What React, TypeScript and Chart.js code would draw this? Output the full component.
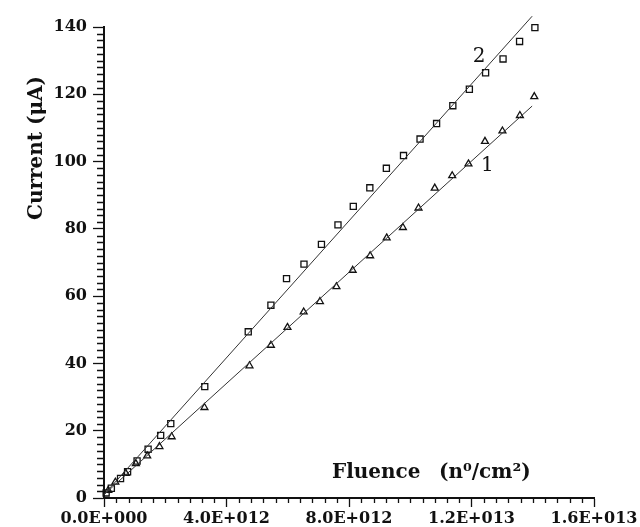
import React, { useEffect, useRef } from 'react';
import { Chart, registerables } from 'chart.js';

Chart.register(...registerables);

// Fluence in units of 1e12 n0/cm2, current in µA
const fluence2 = [0.07, 0.24, 0.54, 0.77, 1.08, 1.44, 1.85, 2.18, 3.29, 4.71, 5.45, 5.96, 6.53, 7.1, 7.64, 8.14, 8.68, 9.22, 9.78, 10.32, 10.86, 11.39, 11.93, 12.46, 13.03, 13.57, 14.07];
const current2 = [1.5, 2.9, 5.8, 7.8, 11.0, 14.5, 18.6, 22.1, 33.1, 49.4, 57.3, 65.2, 69.5, 75.4, 81.2, 86.7, 92.2, 98.0, 101.8, 106.7, 111.3, 116.6, 121.5, 126.4, 130.5, 135.7, 139.8];

const fluence1 = [0.14, 0.37, 0.71, 1.04, 1.41, 1.81, 2.21, 3.28, 4.75, 5.45, 5.99, 6.52, 7.05, 7.59, 8.12, 8.69, 9.23, 9.76, 10.27, 10.8, 11.37, 11.9, 12.44, 13.01, 13.58, 14.05];
const current1 = [2.3, 4.7, 7.3, 10.2, 12.5, 15.3, 18.2, 26.9, 39.3, 45.4, 50.7, 55.3, 58.4, 62.8, 67.7, 72.0, 77.3, 80.4, 86.2, 92.1, 95.8, 99.3, 106.0, 109.1, 113.7, 119.3];

const fitFluence = [0, 13.98];
const fit2Current = [1, 143.2];
const fit1Current = [1, 116.5];

const xTickLabels = ['0.0E+000', '4.0E+012', '8.0E+012', '1.2E+013', '1.6E+013'];
const seriesLabels = ['2', '1'];
const seriesLabelFluence = [12.25, 12.52];
const seriesLabelCurrent = [131, 98.8];

const FONT = '"DejaVu Serif", serif';

const pts = (xs: number[], ys: number[]) => xs.map((x, i) => ({ x, y: ys[i] }));

const decor = {
  id: 'decor',
  afterDraw(chart: any) {
    const { ctx, chartArea, scales } = chart;
    const xs = scales.x;
    const ys = scales.y;
    ctx.save();
    ctx.strokeStyle = '#111';
    ctx.lineWidth = 1.3;
    ctx.beginPath();
    for (let i = 1; i < 70; i++) {
      if (i % 10 === 0) continue;
      const py = Math.round(ys.getPixelForValue(i * 2)) + 0.5;
      ctx.moveTo(chartArea.left - 7, py);
      ctx.lineTo(chartArea.left, py);
    }
    for (let i = 1; i < 40; i++) {
      if (i % 10 === 0) continue;
      const px = Math.round(xs.getPixelForValue(i * 0.4)) + 0.5;
      ctx.moveTo(px, chartArea.bottom);
      ctx.lineTo(px, chartArea.bottom + 5);
    }
    ctx.stroke();

    ctx.fillStyle = '#111';
    ctx.font = `20px ${FONT}`;
    ctx.textAlign = 'center';
    ctx.textBaseline = 'middle';
    seriesLabels.forEach((t, i) => {
      ctx.fillText(t, xs.getPixelForValue(seriesLabelFluence[i]), ys.getPixelForValue(seriesLabelCurrent[i]));
    });

    ctx.font = `bold 20px ${FONT}`;
    ctx.textAlign = 'left';
    ctx.textBaseline = 'alphabetic';
    ctx.fillText('Fluence', chartArea.left + 228, chartArea.bottom - 20);
    ctx.fillText('(n\u2070/cm\u00B2)', chartArea.left + 335, chartArea.bottom - 20);

    ctx.translate(chartArea.left - 62, chartArea.top + 121);
    ctx.rotate(-Math.PI / 2);
    ctx.textAlign = 'center';
    ctx.fillText('Current (\u03BCA)', 0, 0);
    ctx.restore();
  },
};

export default function App() {
  const ref = useRef<HTMLCanvasElement | null>(null);
  useEffect(() => {
    document.body.style.margin = '0';
    const canvas = ref.current;
    if (!canvas) return;
    const chart = new Chart(canvas, {
      type: 'scatter',
      data: {
        datasets: [
          {
            data: pts(fitFluence, fit2Current),
            showLine: true,
            borderColor: '#333',
            borderWidth: 1,
            pointRadius: 0,
            clip: false,
          },
          {
            data: pts(fitFluence, fit1Current),
            showLine: true,
            borderColor: '#333',
            borderWidth: 1,
            pointRadius: 0,
            clip: false,
          },
          {
            data: pts(fluence2, current2),
            pointStyle: 'rect',
            pointRadius: 4.3,
            borderColor: '#111',
            backgroundColor: 'rgba(0,0,0,0)',
            borderWidth: 1.3,
            clip: false,
          },
          {
            data: pts(fluence1, current1),
            pointStyle: 'triangle',
            pointRadius: 4,
            borderColor: '#111',
            backgroundColor: 'rgba(0,0,0,0)',
            borderWidth: 1.3,
            clip: false,
          },
        ],
      },
      options: {
        animation: false,
        responsive: true,
        maintainAspectRatio: false,
        layout: { padding: { top: 27, right: 46, bottom: 0, left: 0 } },
        plugins: { legend: { display: false }, tooltip: { enabled: false } },
        scales: {
          x: {
            type: 'linear',
            min: 0,
            max: 16,
            afterFit: (s: any) => { s.height = 29; },
            border: { display: true, color: '#111', width: 2 },
            grid: { drawOnChartArea: false, drawTicks: true, tickLength: 9, tickColor: '#111', tickWidth: 1.3 },
            ticks: {
              stepSize: 4,
              padding: 2,
              color: '#111',
              font: { family: FONT, size: 16, weight: 'bold' },
              maxRotation: 0,
              callback: (v: any) => xTickLabels[Math.round(Number(v) / 4)] ?? '',
            },
          },
          y: {
            type: 'linear',
            min: 0,
            max: 140,
            afterFit: (s: any) => { s.width = 104; },
            border: { display: true, color: '#111', width: 2 },
            grid: { drawOnChartArea: false, drawTicks: true, tickLength: 11, tickColor: '#111', tickWidth: 1.3 },
            ticks: {
              stepSize: 20,
              padding: 6,
              color: '#111',
              font: { family: FONT, size: 16, weight: 'bold' },
            },
          },
        },
      },
      plugins: [decor],
    } as any);
    return () => chart.destroy();
  }, []);
  return (
    <div style={{ width: 640, height: 527, position: 'relative', background: '#fff' }}>
      <canvas ref={ref} />
    </div>
  );
}
